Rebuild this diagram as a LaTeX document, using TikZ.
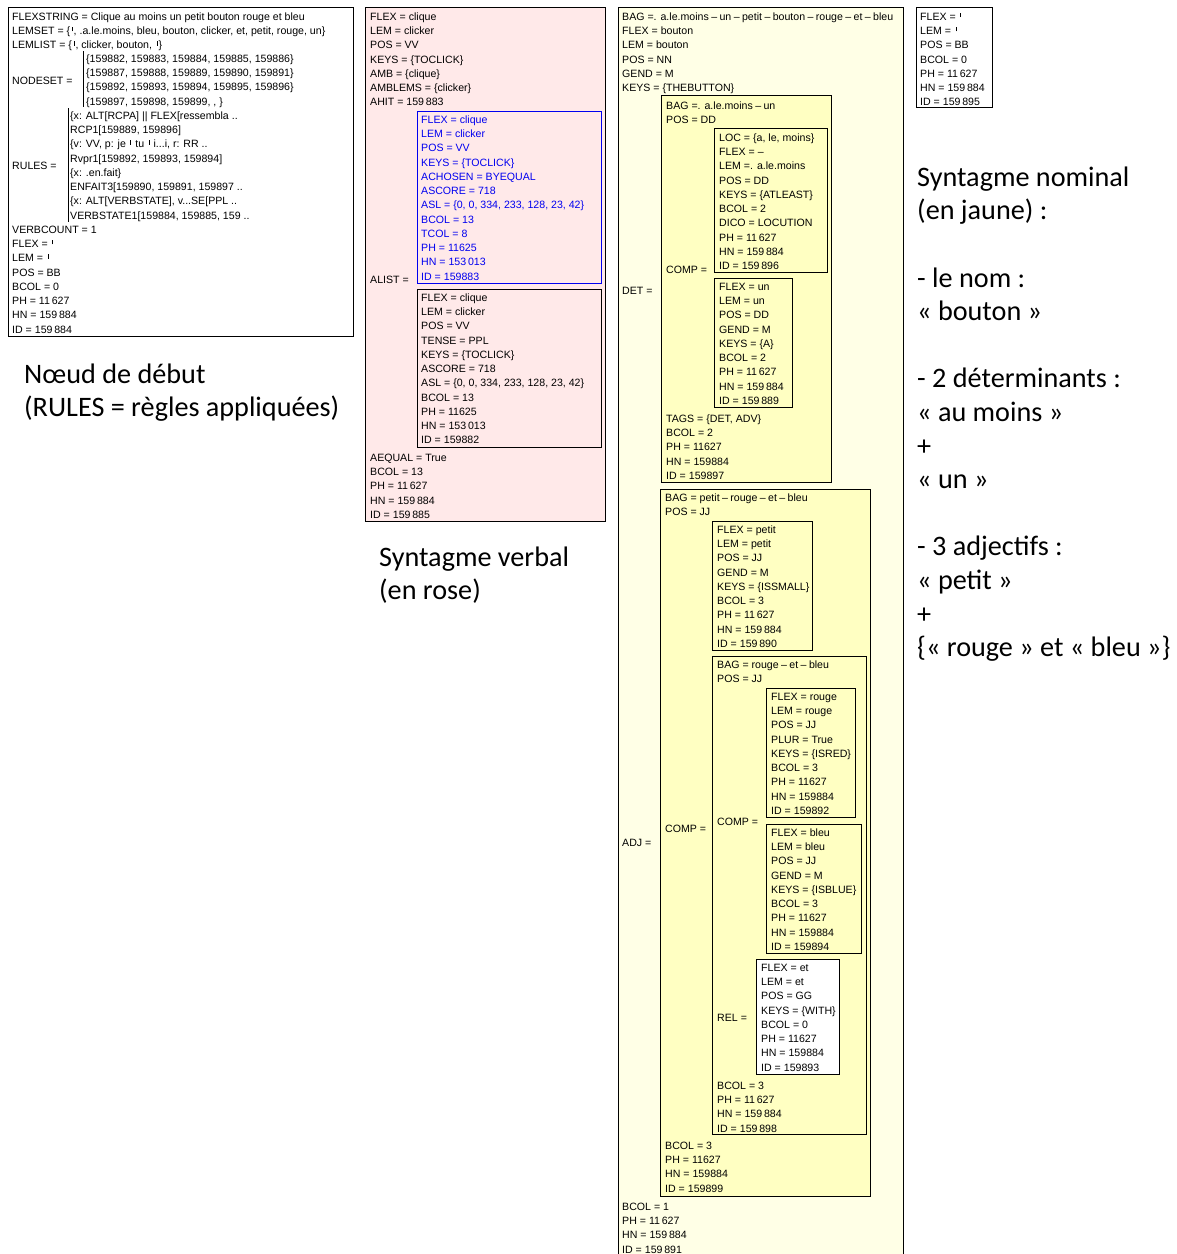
\documentclass[tikz,border=0pt]{standalone}
\usepackage{fontspec}
\setmainfont{Liberation Sans}
\newfontfamily\carl{Carlito}
\definecolor{pnk}{HTML}{FFE9E9}
\definecolor{ylw}{HTML}{FFFFC2}
\definecolor{ylwpale}{HTML}{FFFFE6}
\definecolor{blu}{HTML}{0000F0}
\newcommand\vbr{\kern1.5pt\rule[3pt]{0.5pt}{4.5pt}\kern1.5pt}
\newcommand\dsh{\kern2.4pt--\kern2.4pt}
\tikzset{
  av/.style={anchor=north west, inner sep=0pt, align=left, font=\fontsize{10.6}{14.27}\selectfont},
  big/.style={anchor=north west, inner sep=0pt, align=left, font=\carl\fontsize{28.2}{33.6}\selectfont},
  fr/.style={draw, line width=0.9pt},
}
\begin{document}
\begin{tikzpicture}[x=1pt,y=-1pt]
\useasboundingbox (0,0) rectangle (1177,1254);
% start node
\draw[fr, fill=white] (8,7) rectangle (353,336);
\node[av] (st0) at (12,10) {\strut FLEXSTRING = Clique au moins un petit bouton rouge et bleu\\
LEMSET = \{\vbr, .a.le.moins, bleu, bouton, clicker, et, petit, rouge, un\}\\
LEMLIST = \{\vbr, clicker, bouton, \vbr\}};
\node[av] (st1) at (12,74) {\strut NODESET =};
\draw[line width=0.6pt] (83,51) -- (83,107);
\node[av] (st2) at (86,52) {\strut\{159882, 159883, 159884, 159885, 159886\}\\
\{159887, 159888, 159889, 159890, 159891\}\\
\{159892, 159893, 159894, 159895, 159896\}\\
\{159897, 159898, 159899, , \}};
\node[av] (st3) at (12,159) {\strut RULES =};
\draw[line width=0.6pt] (68,108) -- (68,222);
\node[av] (st4) at (70,109) {\strut\{x: ALT[RCPA] || FLEX[ressembla ..\\
RCP1[159889, 159896]\\
\{v: VV, p: je \vbr{} tu \vbr{} i...i, r: RR ..\\
Rvpr1[159892, 159893, 159894]\\
\{x: .en.fait\}\\
ENFAIT3[159890, 159891, 159897 ..\\
\{x: ALT[VERBSTATE], v...SE[PPL ..\\
VERBSTATE1[159884, 159885, 159 ..};
\node[av] (st5) at (12,223) {\strut VERBCOUNT = 1\\ FLEX = \vbr\\ LEM = \vbr\\ POS = BB\\ BCOL = 0\\
PH = 11\,627\\ HN = 159\,884\\ ID = 159\,884};
\node[big] (cap0) at (24,359.5) {\strut N\oe ud de début\\(RULES = règles appliquées)};

% verb phrase
\draw[fr, fill=pnk] (365,7) rectangle (605,521);
\node[av] (vp0) at (370,10) {\strut FLEX = clique\\ LEM = clicker\\ POS = VV\\ KEYS = \{TOCLICK\}\\
AMB = \{clique\}\\ AMBLEMS = \{clicker\}\\ AHIT = 159\,883};
\draw[fr, draw=blu] (417,111) rectangle (601,283);
\node[av, text=blu] (vp1) at (421,113) {\strut FLEX = clique\\ LEM = clicker\\ POS = VV\\ KEYS = \{TOCLICK\}\\
ACHOSEN = BYEQUAL\\ ASCORE = 718\\ ASL = \{0, 0, 334, 233, 128, 23, 42\}\\ BCOL = 13\\ TCOL = 8\\
PH = 11625\\ HN = 153\,013\\ ID = 159883};
\node[av] (vp2) at (370,273) {\strut ALIST =};
\draw[fr] (417,289) rectangle (601,447);
\node[av] (vp3) at (421,291) {\strut FLEX = clique\\ LEM = clicker\\ POS = VV\\ TENSE = PPL\\ KEYS = \{TOCLICK\}\\
ASCORE = 718\\ ASL = \{0, 0, 334, 233, 128, 23, 42\}\\ BCOL = 13\\ PH = 11625\\ HN = 153\,013\\ ID = 159882};
\node[av] (vp4) at (370,451) {\strut AEQUAL = True\\ BCOL = 13\\ PH = 11\,627\\ HN = 159\,884\\ ID = 159\,885};
\node[big] (cap1) at (379,542.5) {\strut Syntagme verbal\\(en rose)};

% noun phrase
\draw[fr, fill=ylwpale] (618,7) rectangle (903,1258);
\node[av] (np0) at (622,10) {\strut BAG =. a.le.moins\dsh un\dsh petit\dsh bouton\dsh rouge\dsh et\dsh bleu\\
FLEX = bouton\\ LEM = bouton\\ POS = NN\\ GEND = M\\ KEYS = \{THEBUTTON\}};
\node[av] (np1) at (622,284) {\strut DET =};
\draw[fr, fill=ylw] (661,95) rectangle (831,482);
\node[av] (det0) at (666,99) {\strut BAG =. a.le.moins\dsh un\\ POS = DD};
\node[av] (det1) at (666,263) {\strut COMP =};
\draw[fr, fill=ylw] (714,128) rectangle (827,272);
\node[av] (det2) at (719,131) {\strut LOC = \{a, le, moins\}\\ FLEX = --\\ LEM =. a.le.moins\\ POS = DD\\
KEYS = \{ATLEAST\}\\ BCOL = 2\\ DICO = LOCUTION\\ PH = 11\,627\\ HN = 159\,884\\ ID = 159\,896};
\draw[fr, fill=ylw] (714,278) rectangle (792,407);
\node[av] (det3) at (719,280) {\strut FLEX = un\\ LEM = un\\ POS = DD\\ GEND = M\\ KEYS = \{A\}\\ BCOL = 2\\
PH = 11\,627\\ HN = 159\,884\\ ID = 159\,889};
\node[av] (det4) at (666,412) {\strut TAGS = \{DET, ADV\}\\ BCOL = 2\\ PH = 11627\\ HN = 159884\\ ID = 159897};
\node[av] (np2) at (622,836) {\strut ADJ =};
\draw[fr, fill=ylw] (660,489) rectangle (870,1196);
\node[av] (adj0) at (665,491) {\strut BAG = petit\dsh rouge\dsh et\dsh bleu\\ POS = JJ};
\node[av] (adj1) at (665,822) {\strut COMP =};
\draw[fr, fill=ylw] (712,521) rectangle (812,650);
\node[av] (adj2) at (717,523) {\strut FLEX = petit\\ LEM = petit\\ POS = JJ\\ GEND = M\\ KEYS = \{ISSMALL\}\\
BCOL = 3\\ PH = 11\,627\\ HN = 159\,884\\ ID = 159\,890};
\draw[fr, fill=ylw] (712,656) rectangle (866,1134);
\node[av] (adj3) at (717,658) {\strut BAG = rouge\dsh et\dsh bleu\\ POS = JJ};
\node[av] (adj4) at (717,815) {\strut COMP =};
\draw[fr, fill=ylw] (766,688) rectangle (855,817);
\node[av] (adj5) at (771,690) {\strut FLEX = rouge\\ LEM = rouge\\ POS = JJ\\ PLUR = True\\ KEYS = \{ISRED\}\\
BCOL = 3\\ PH = 11627\\ HN = 159884\\ ID = 159892};
\draw[fr, fill=ylw] (766,824) rectangle (861,953);
\node[av] (adj6) at (771,826) {\strut FLEX = bleu\\ LEM = bleu\\ POS = JJ\\ GEND = M\\ KEYS = \{ISBLUE\}\\
BCOL = 3\\ PH = 11627\\ HN = 159884\\ ID = 159894};
\node[av] (adj7) at (717,1011) {\strut REL =};
\draw[fr, fill=white] (756,959) rectangle (839,1074);
\node[av] (adj8) at (761,961) {\strut FLEX = et\\ LEM = et\\ POS = GG\\ KEYS = \{WITH\}\\ BCOL = 0\\
PH = 11627\\ HN = 159884\\ ID = 159893};
\node[av] (adj9) at (717,1079) {\strut BCOL = 3\\ PH = 11\,627\\ HN = 159\,884\\ ID = 159\,898};
\node[av] (adj10) at (665,1139) {\strut BCOL = 3\\ PH = 11627\\ HN = 159884\\ ID = 159899};
\node[av] (np3) at (622,1200) {\strut BCOL = 1\\ PH = 11\,627\\ HN = 159\,884\\ ID = 159\,891};

% end node
\draw[fr, fill=white] (916,7) rectangle (992,107);
\node[av] (en0) at (920,10) {\strut FLEX = \vbr\\ LEM = \vbr\\ POS = BB\\ BCOL = 0\\ PH = 11\,627\\
HN = 159\,884\\ ID = 159\,895};
\node[big] (cap2) at (917,162.5) {\strut Syntagme nominal\\(en jaune) :\\\strut\\- le nom :\\« bouton »\\\strut\\
- 2 déterminants :\\« au moins »\\+\\« un »\\\strut\\- 3 adjectifs :\\« petit »\\+\\\{« rouge » et « bleu »\}};
\end{tikzpicture}
\end{document}
